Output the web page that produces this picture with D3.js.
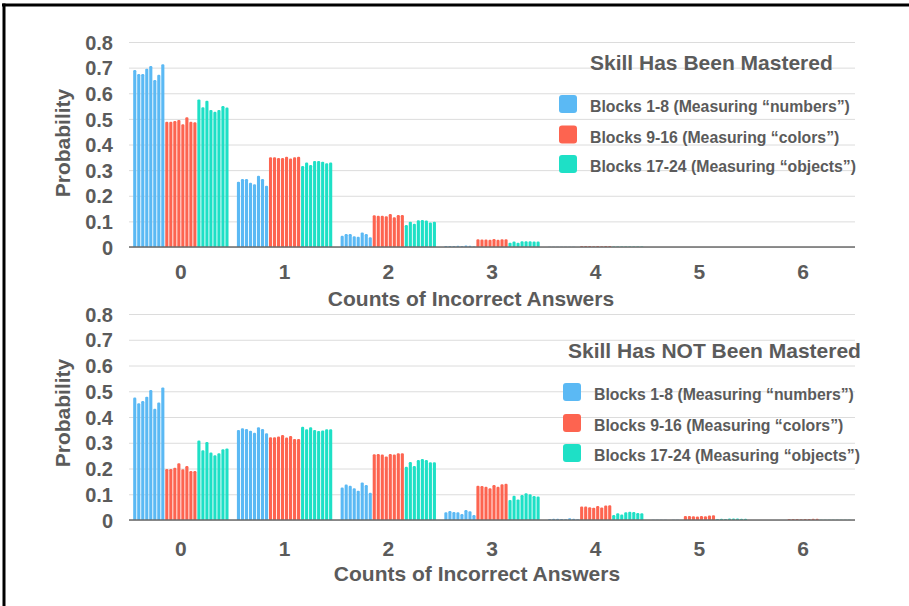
<!DOCTYPE html>
<html>
<head>
<meta charset="utf-8">
<script src="https://cdn.jsdelivr.net/npm/d3@7"></script>
<style>
  html, body { margin: 0; padding: 0; background: #fff; }
  svg { display: block; }
  text { font-family: "Liberation Sans", Arial, Helvetica, sans-serif; font-weight: bold; fill: #5b5b5b; }
</style>
</head>
<body>
<svg id="chart" width="909" height="606"></svg>
<script>
// ---------------- DATA ----------------
const categories = ["0", "1", "2", "3", "4", "5", "6"];
const yTickValues = [0, 0.1, 0.2, 0.3, 0.4, 0.5, 0.6, 0.7, 0.8];
const yTickLabels = ["0", "0.1", "0.2", "0.3", "0.4", "0.5", "0.6", "0.7", "0.8"];
const seriesNames = [
  "Blocks 1-8 (Measuring \u201cnumbers\u201d)",
  "Blocks 9-16 (Measuring \u201ccolors\u201d)",
  "Blocks 17-24 (Measuring \u201cobjects\u201d)"
];
const seriesColors = ["#5bb9f4", "#fd6450", "#1ee0c6"];
const panelTitles = ["Skill Has Been Mastered", "Skill Has NOT Been Mastered"];
const xAxisTitle = "Counts of Incorrect Answers";
const yAxisTitle = "Probability";

// Skill mastered: per count category, 8 blocks each
const masteredNumbers = [
  [0.691, 0.675, 0.675, 0.696, 0.706, 0.652, 0.672, 0.713],
  [0.255, 0.265, 0.265, 0.251, 0.245, 0.278, 0.265, 0.239],
  [0.044, 0.051, 0.051, 0.042, 0.040, 0.057, 0.051, 0.038],
  [0.004, 0.004, 0.004, 0.005, 0.004, 0.006, 0.005, 0.003],
  [0.0005, 0.0005, 0.0005, 0.0005, 0.0005, 0.0008, 0.0005, 0.0004],
  [0, 0, 0, 0, 0, 0, 0, 0],
  [0, 0, 0, 0, 0, 0, 0, 0]
];
const masteredColors = [
  [0.489, 0.489, 0.492, 0.496, 0.479, 0.506, 0.489, 0.487],
  [0.350, 0.350, 0.347, 0.347, 0.352, 0.345, 0.350, 0.352],
  [0.124, 0.122, 0.122, 0.120, 0.129, 0.116, 0.125, 0.125],
  [0.030, 0.029, 0.029, 0.028, 0.031, 0.028, 0.030, 0.030],
  [0.004, 0.004, 0.004, 0.003, 0.004, 0.003, 0.004, 0.004],
  [0.0004, 0.0004, 0.0004, 0.0004, 0.0004, 0.0004, 0.0004, 0.0004],
  [0, 0, 0, 0, 0, 0, 0, 0]
];
const masteredObjects = [
  [0.576, 0.545, 0.571, 0.535, 0.528, 0.535, 0.550, 0.544],
  [0.316, 0.330, 0.320, 0.336, 0.336, 0.333, 0.327, 0.330],
  [0.086, 0.099, 0.091, 0.104, 0.105, 0.103, 0.096, 0.099],
  [0.017, 0.021, 0.017, 0.022, 0.022, 0.022, 0.021, 0.021],
  [0.002, 0.002, 0.002, 0.002, 0.002, 0.002, 0.002, 0.002],
  [0.0002, 0.0002, 0.0002, 0.0002, 0.0002, 0.0002, 0.0002, 0.0002],
  [0, 0, 0, 0, 0, 0, 0, 0]
];

// Skill NOT mastered
const notMasteredNumbers = [
  [0.476, 0.453, 0.462, 0.479, 0.505, 0.432, 0.456, 0.515],
  [0.350, 0.356, 0.353, 0.347, 0.339, 0.360, 0.353, 0.337],
  [0.126, 0.138, 0.133, 0.123, 0.114, 0.146, 0.136, 0.106],
  [0.030, 0.035, 0.031, 0.030, 0.023, 0.039, 0.034, 0.019],
  [0.004, 0.005, 0.005, 0.004, 0.003, 0.007, 0.005, 0.003],
  [0.0005, 0.0005, 0.0005, 0.0005, 0.0004, 0.0008, 0.0005, 0.0003],
  [0, 0, 0, 0, 0, 0, 0, 0]
];
const notMasteredColors = [
  [0.198, 0.198, 0.203, 0.220, 0.197, 0.210, 0.190, 0.190],
  [0.321, 0.321, 0.324, 0.330, 0.320, 0.326, 0.315, 0.315],
  [0.255, 0.256, 0.254, 0.247, 0.256, 0.254, 0.259, 0.259],
  [0.133, 0.132, 0.129, 0.123, 0.136, 0.129, 0.139, 0.141],
  [0.052, 0.052, 0.050, 0.048, 0.054, 0.049, 0.056, 0.057],
  [0.016, 0.016, 0.015, 0.014, 0.016, 0.015, 0.017, 0.018],
  [0.004, 0.004, 0.004, 0.003, 0.004, 0.004, 0.005, 0.005]
];
const notMasteredObjects = [
  [0.309, 0.271, 0.303, 0.262, 0.251, 0.259, 0.275, 0.278],
  [0.362, 0.352, 0.360, 0.350, 0.346, 0.348, 0.352, 0.352],
  [0.207, 0.225, 0.210, 0.233, 0.237, 0.233, 0.224, 0.224],
  [0.078, 0.094, 0.080, 0.097, 0.104, 0.100, 0.093, 0.091],
  [0.019, 0.026, 0.021, 0.030, 0.032, 0.031, 0.027, 0.026],
  [0.004, 0.005, 0.004, 0.006, 0.006, 0.006, 0.005, 0.005],
  [0.001, 0.001, 0.001, 0.001, 0.001, 0.001, 0.001, 0.001]
];

// ---------------- LAYOUT ----------------
const svg = d3.select("#chart");
const plotLeft = 129, plotRight = 855;

const panels = [
  {
    series: [masteredNumbers, masteredColors, masteredObjects],
    title: panelTitles[0],
    yTop: 42, yBase: 247,
    xLabelY: 279, xTitleY: 306, xTitleX: 471,
    yTitleY: 143,
    legendTitleX: 590, legendTitleY: 70,
    legendSqX: 559, legendTextX: 590,
    legendRowY: [112, 142.5, 172]
  },
  {
    series: [notMasteredNumbers, notMasteredColors, notMasteredObjects],
    title: panelTitles[1],
    yTop: 314, yBase: 520,
    xLabelY: 556, xTitleY: 581, xTitleX: 477,
    yTitleY: 413,
    legendTitleX: 568, legendTitleY: 358,
    legendSqX: 563, legendTextX: 594,
    legendRowY: [400, 431, 461]
  }
];

const x = d3.scaleBand()
  .domain(categories)
  .range([plotLeft, plotRight])
  .paddingInner(0.077)
  .paddingOuter(0.0385);

const blockIdx = d3.range(24);
const xb = d3.scaleBand()
  .domain(blockIdx)
  .range([0, x.bandwidth()])
  .paddingInner(0.22)
  .paddingOuter(0.05);

function topRoundedBar(x0, y0, w, h, r) {
  if (h <= 0) return "";
  r = Math.min(r, w / 2, h);
  return `M${x0},${y0 + h}V${y0 + r}Q${x0},${y0} ${x0 + r},${y0}H${x0 + w - r}Q${x0 + w},${y0} ${x0 + w},${y0 + r}V${y0 + h}Z`;
}

panels.forEach(p => {
  const y = d3.scaleLinear().domain([0, 0.8]).range([p.yBase, p.yTop]);
  const g = svg.append("g");

  // Gridlines + y tick labels
  const yAxis = d3.axisLeft(y)
    .tickValues(yTickValues)
    .tickFormat((d, i) => yTickLabels[i])
    .tickSize(-(plotRight - plotLeft))
    .tickPadding(16);
  const ya = g.append("g").attr("transform", `translate(${plotLeft},0)`).call(yAxis);
  ya.select(".domain").remove();
  ya.selectAll(".tick line").attr("stroke", "#dcdcdc").attr("stroke-width", 1);
  ya.selectAll(".tick text")
    .attr("font-size", 20)
    .attr("font-family", "'Liberation Sans', Arial, sans-serif")
    .attr("font-weight", "bold")
    .attr("fill", "#5b5b5b")
    .attr("dy", "0.36em");

  // Legend (drawn under bars, over grid)
  g.append("text")
    .attr("x", p.legendTitleX).attr("y", p.legendTitleY)
    .attr("font-size", 21)
    .text(p.title);
  seriesNames.forEach((name, i) => {
    g.append("rect")
      .attr("x", p.legendSqX).attr("y", p.legendRowY[i] - 17)
      .attr("width", 18).attr("height", 18)
      .attr("rx", 3)
      .attr("fill", seriesColors[i]);
    g.append("text")
      .attr("x", p.legendTextX).attr("y", p.legendRowY[i])
      .attr("font-size", 15.8)
      .text(name);
  });

  // Bars
  const barData = [];
  categories.forEach((c, ci) => {
    p.series.forEach((s, si) => {
      s[ci].forEach((v, bi) => {
        barData.push({ cat: c, block: si * 8 + bi, series: si, value: v });
      });
    });
  });
  g.append("g").selectAll("path")
    .data(barData)
    .join("path")
    .attr("d", d => {
      const x0 = x(d.cat) + xb(d.block);
      const y0 = y(d.value);
      return topRoundedBar(x0, y0, xb.bandwidth(), p.yBase - y0, 1.2);
    })
    .attr("fill", d => seriesColors[d.series]);

  // Baseline
  g.append("line")
    .attr("x1", plotLeft).attr("x2", plotRight)
    .attr("y1", y(0)).attr("y2", y(0))
    .attr("stroke", "#6b6b6b").attr("stroke-width", 1.5);

  // X axis labels
  const xAxis = d3.axisBottom(x).tickSize(0).tickPadding(0);
  const xa = g.append("g").attr("transform", `translate(0,${p.xLabelY})`).call(xAxis);
  xa.select(".domain").remove();
  xa.selectAll(".tick text")
    .attr("dy", null).attr("y", 0)
    .attr("font-size", 21)
    .attr("font-family", "'Liberation Sans', Arial, sans-serif")
    .attr("font-weight", "bold")
    .attr("fill", "#5b5b5b");

  // Axis titles
  g.append("text")
    .attr("x", p.xTitleX).attr("y", p.xTitleY)
    .attr("text-anchor", "middle")
    .attr("font-size", 21)
    .text(xAxisTitle);
  g.append("text")
    .attr("transform", `translate(70,${p.yTitleY}) rotate(-90)`)
    .attr("text-anchor", "middle")
    .attr("font-size", 21)
    .text(yAxisTitle);
});

// Frame lines (top and left)
svg.append("line").attr("x1", 2).attr("x2", 909).attr("y1", 5).attr("y2", 5)
  .attr("stroke", "#000").attr("stroke-width", 3);
svg.append("line").attr("x1", 4).attr("x2", 4).attr("y1", 3.5).attr("y2", 606)
  .attr("stroke", "#000").attr("stroke-width", 3);
</script>
</body>
</html>
